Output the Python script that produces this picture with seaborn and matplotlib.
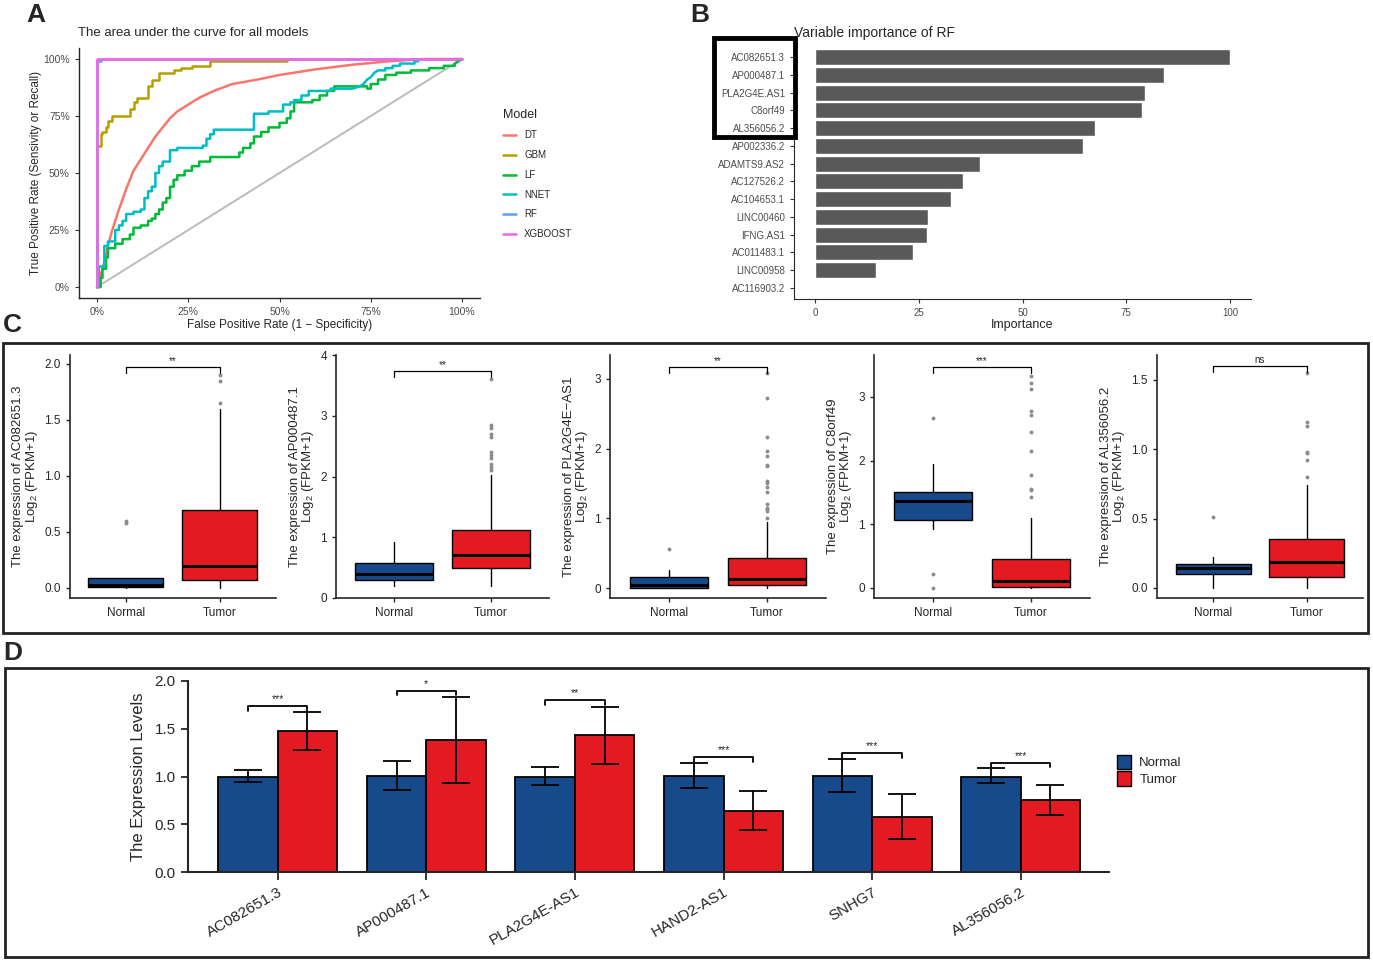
import numpy as np
import pandas as pd
import matplotlib
matplotlib.use("Agg")
import matplotlib.pyplot as plt
import matplotlib.patches as mpatches
import seaborn as sns

# ---------------- panel A : ROC curves (FPR %, TPR %) ----------------
roc_models = ["DT", "GBM", "LF", "NNET", "RF", "XGBOOST"]
roc_colors = ["#F8766D", "#B79F00", "#00BA38", "#00BFC4", "#619CFF", "#F564E3"]
diag = [0, 100]

dt_pts = [(0, 0), (1, 5), (2, 11), (3, 18), (4, 24), (6, 34), (8, 43), (10, 51), (12, 56),
          (14, 61), (16, 66), (18, 70), (20, 74), (22, 77), (25, 80), (28, 83), (32, 86),
          (37, 89), (44, 91), (50, 93), (60, 95.5), (70, 97.5), (80, 99), (90, 100),
          (100, 100)]
gbm_pts = [(0, 0), (0, 62), (1, 62), (1, 67), (1.5, 67), (1.5, 68), (2.5, 68), (2.5, 70),
           (3, 70), (3, 73), (4, 73), (4, 75), (9, 75), (9, 78), (10, 78), (10, 81),
           (11, 81), (11, 83), (14, 83), (14, 88), (15, 88), (15, 91), (17, 91), (17, 94),
           (21, 94), (21, 95), (23, 95), (23, 96), (26, 96), (26, 97), (31, 97), (31, 99),
           (52, 99)]
lf_pts = [(0, 0), (1, 0), (1, 4), (1.5, 4), (1.5, 8), (2.5, 8), (2.5, 13), (3, 13), (3, 17),
          (5, 17), (5, 19), (7, 19), (7, 21), (9, 21), (9, 23), (10, 23), (10, 26), (12, 26),
          (12, 27), (14, 27), (14, 29), (15, 29), (15, 30), (16, 30), (16, 32), (17, 32),
          (17, 34), (18, 34), (18, 37), (19, 37), (19, 39), (20, 39), (20, 44), (21, 44),
          (21, 47), (22, 47), (22, 49), (24, 49), (24, 51), (26, 51), (26, 53), (28, 53),
          (28, 55), (31, 55), (31, 57), (39, 57), (39, 59), (40, 59), (40, 61), (42, 61),
          (42, 63), (43, 63), (43, 66), (45, 66), (45, 68), (47, 68), (47, 70), (50, 70),
          (50, 72), (52, 72), (52, 74), (53, 74), (53, 77), (54, 77), (54, 81), (59, 81),
          (59, 82), (61, 82), (61, 84), (63, 84), (63, 86), (65, 86), (65, 88), (74, 88),
          (74, 87), (75, 87), (75, 89), (77, 89), (77, 91), (79, 91), (79, 93), (82, 93),
          (82, 94), (86, 94), (86, 95), (91, 95), (91, 96), (95, 96), (95, 97), (98, 97),
          (98, 98), (100, 100)]
nnet_pts = [(0, 0), (0.5, 0), (0.5, 9), (2, 9), (2, 18), (3, 18), (3, 20), (5, 20), (5, 25),
            (6, 25), (6, 27), (7, 27), (7, 29), (8, 29), (8, 32), (10, 32), (10, 33), (12, 33),
            (12, 34), (13, 34), (13, 39), (14, 39), (14, 42), (15, 42), (15, 44), (16, 44),
            (16, 50), (17, 50), (17, 53), (18, 53), (18, 55), (20, 55), (20, 60), (22, 60),
            (22, 61), (29, 61), (29, 62), (30, 62), (30, 65), (31, 65), (31, 67), (32, 67),
            (32, 69), (43, 69), (43, 76), (47, 76), (47, 77), (51, 77), (51, 80), (53, 80),
            (53, 81), (54, 81), (54, 82), (56, 82), (56, 84), (58, 84), (58, 86), (64, 86),
            (64, 87), (70, 87), (72, 88), (73, 89), (74, 91), (75, 92), (76, 94), (77, 95),
            (79, 95), (79, 96), (81, 96), (81, 97), (83, 97), (83, 98), (87, 98), (87, 99),
            (88, 99)]
rf_pts = [(0, 0), (0, 99), (1, 99), (1, 100), (100, 100)]
xgb_pts = [(0, 0), (0, 100), (100, 100)]

# ---------------- panel B : variable importance ----------------
imp_vars = ["AC082651.3", "AP000487.1", "PLA2G4E.AS1", "C8orf49", "AL356056.2",
            "AP002336.2", "ADAMTS9.AS2", "AC127526.2", "AC104653.1", "LINC00460",
            "IFNG.AS1", "AC011483.1", "LINC00958", "AC116903.2"]
imp_vals = [100, 84.0, 79.5, 78.7, 67.4, 64.5, 39.8, 35.7, 32.8, 27.3, 27.0, 23.7, 14.8, 0]

# ---------------- panel C : box statistics ----------------
box_genes = ["AC082651.3", "AP000487.1", "PLA2G4E\u2212AS1", "C8orf49", "AL356056.2"]
box_sig = ["**", "**", "**", "***", "ns"]
box_sig_y = [1.97, 3.73, 3.17, 3.47, 1.60]

nor_lo = [0.0, 0.2, 0.0, 0.92, 0.0]
nor_q1 = [0.01, 0.3, 0.01, 1.06, 0.10]
nor_med = [0.03, 0.4, 0.04, 1.37, 0.145]
nor_q3 = [0.09, 0.58, 0.16, 1.50, 0.175]
nor_hi = [0.09, 0.92, 0.26, 1.95, 0.22]
nor_fliers = [[0.58, 0.60], [], [0.56], [2.67, 0.22, 0.0], [0.51]]

tum_lo = [0.0, 0.2, 0.0, 0.0, 0.0]
tum_q1 = [0.07, 0.5, 0.05, 0.01, 0.075]
tum_med = [0.20, 0.7, 0.13, 0.11, 0.185]
tum_q3 = [0.70, 1.12, 0.43, 0.45, 0.355]
tum_hi = [1.60, 2.03, 0.95, 1.10, 0.745]
tum_fliers = [[1.65, 1.85, 1.90],
              [2.1, 2.15, 2.2, 2.3, 2.35, 2.4, 2.65, 2.7, 2.8, 2.85, 3.6],
              [1.0, 1.1, 1.13, 1.15, 1.2, 1.38, 1.45, 1.5, 1.53, 1.75, 1.77, 1.9, 1.97,
               2.17, 2.73, 3.08],
              [1.42, 1.53, 1.55, 1.78, 2.15, 2.45, 2.72, 2.78, 3.12, 3.22, 3.33],
              [0.8, 0.92, 0.97, 0.98, 1.17, 1.2, 1.55]]

# ---------------- panel D : qPCR bars ----------------
d_genes = ["AC082651.3", "AP000487.1", "PLA2G4E-AS1", "HAND2-AS1", "SNHG7", "AL356056.2"]
d_normal = [1.00, 1.01, 1.00, 1.01, 1.01, 1.00]
d_normal_lo = [0.94, 0.86, 0.91, 0.88, 0.84, 0.93]
d_normal_hi = [1.07, 1.16, 1.10, 1.14, 1.18, 1.09]
d_tumor = [1.48, 1.38, 1.43, 0.64, 0.58, 0.75]
d_tumor_lo = [1.28, 0.93, 1.13, 0.44, 0.35, 0.60]
d_tumor_hi = [1.68, 1.83, 1.73, 0.85, 0.82, 0.91]
d_sig = ["***", "*", "**", "***", "***", "***"]
d_sig_y = [1.74, 1.90, 1.80, 1.20, 1.245, 1.145]

BLUE = "#174A8B"
RED = "#E41A22"

sns.set_style("ticks")
plt.rcParams["font.family"] = ["Liberation Sans", "DejaVu Sans"]
plt.rcParams["mathtext.fontset"] = "custom"
plt.rcParams["mathtext.rm"] = "Liberation Sans"

W, H = 1373, 960
fig = plt.figure(figsize=(W / 100, H / 100), dpi=100)


def fbox(l, t, r, b):
    return [l / W, 1 - b / H, (r - l) / W, (b - t) / H]


def panel_letter(x, y, s):
    fig.text(x / W, 1 - y / H, s, fontsize=19, fontweight="bold", ha="left", va="center")


# ---------- A ----------
rows = []
for m, pts in zip(roc_models, [dt_pts, gbm_pts, lf_pts, nnet_pts, rf_pts, xgb_pts]):
    for i, (fx, ty) in enumerate(pts):
        rows.append({"model": m, "order": i, "fpr": fx, "tpr": ty})
roc_df = pd.DataFrame(rows)

axA = fig.add_axes(fbox(78.75, 47.6, 480.25, 298.4))
axA.plot(diag, diag, color="#BEBEBE", lw=1.5, zorder=1)
sns.lineplot(data=roc_df, x="fpr", y="tpr", hue="model", hue_order=roc_models,
             palette=roc_colors, sort=False, estimator=None, lw=1.8, ax=axA)
axA.set_xlim(-5, 105)
axA.set_ylim(-5, 105)
pct = [0, 25, 50, 75, 100]
axA.set_xticks(pct, [f"{p}%" for p in pct])
axA.set_yticks(pct, [f"{p}%" for p in pct])
axA.tick_params(labelsize=7.5, labelcolor="#4D4D4D", color="#333333", length=3, width=0.8)
for s in ["top", "right"]:
    axA.spines[s].set_visible(False)
for s in ["left", "bottom"]:
    axA.spines[s].set_linewidth(1.0)
axA.set_xlabel("False Positive Rate (1 \u2212 Specificity)", fontsize=8.5, labelpad=1)
axA.set_ylabel("True Positive Rate (Sensivity or Recall)", fontsize=8.5, labelpad=1)
handles, labels = axA.get_legend_handles_labels()
axA.legend_.remove()
legA = fig.legend(handles, labels, title="Model", loc="upper left",
                  bbox_to_anchor=(494 / W, 1 - 100 / H), frameon=False, fontsize=7,
                  title_fontsize=9, handlelength=1.4, labelspacing=1.0, handletextpad=0.8)
legA._legend_box.align = "left"
fig.text(78 / W, 1 - 33 / H, "The area under the curve for all models", fontsize=9.5, va="center")
panel_letter(26, 15, "A")

# ---------- B ----------
imp_df = pd.DataFrame({"var": imp_vars, "imp": imp_vals})
axB = fig.add_axes(fbox(794.25, 46.3, 1250.75, 298.7))
sns.barplot(data=imp_df, x="imp", y="var", orient="h", color="#595959", saturation=1,
            width=0.9, ax=axB)
axB.set_xlim(-5, 105)
axB.set_ylim(len(imp_vars) - 0.4, -0.6)
axB.set_xticks([0, 25, 50, 75, 100])
axB.tick_params(labelsize=7, labelcolor="#4D4D4D", color="#333333", length=3, width=0.8)
for s in ["top", "right"]:
    axB.spines[s].set_visible(False)
axB.set_xlabel("Importance", fontsize=9, labelpad=1)
axB.set_ylabel("")
fig.text(794 / W, 1 - 33 / H, "Variable importance of RF", fontsize=10, va="center")
fig.add_artist(mpatches.Rectangle((714 / W, 1 - 137 / H), 81 / W, 99 / H, fill=False,
                                  lw=3.5, ec="black", transform=fig.transFigure))
panel_letter(690, 15, "B")

# ---------- C ----------
c_left = [69.6, 336, 610, 874, 1157]
c_right = [276, 549, 826, 1090, 1363]
c_ylim = [(-0.09, 2.08), (0, 4), (-0.14, 3.34), (-0.16, 3.66), (-0.073, 1.68)]
c_yticks = [[0, 0.5, 1, 1.5, 2], [0, 1, 2, 3, 4], [0, 1, 2, 3], [0, 1, 2, 3],
            [0, 0.5, 1, 1.5]]
for i, g in enumerate(box_genes):
    ax = fig.add_axes(fbox(c_left[i], 355, c_right[i], 598))
    stats = [
        dict(whislo=nor_lo[i], q1=nor_q1[i], med=nor_med[i], q3=nor_q3[i],
             whishi=nor_hi[i], fliers=nor_fliers[i]),
        dict(whislo=tum_lo[i], q1=tum_q1[i], med=tum_med[i], q3=tum_q3[i],
             whishi=tum_hi[i], fliers=tum_fliers[i]),
    ]
    bp = ax.bxp(stats, positions=[1, 2], widths=0.8, patch_artist=True, showcaps=False,
                boxprops=dict(edgecolor="black", lw=1.0),
                medianprops=dict(color="black", lw=2.2),
                whiskerprops=dict(color="black", lw=1.0),
                flierprops=dict(marker="o", markersize=2.8, markerfacecolor="#8C8C8C",
                                markeredgecolor="none"))
    for patch, col in zip(bp["boxes"], [BLUE, RED]):
        patch.set_facecolor(col)
    ax.set_xlim(0.4, 2.6)
    ax.set_ylim(*c_ylim[i])
    ax.set_xticks([1, 2], ["Normal", "Tumor"])
    ticks = c_yticks[i]
    if i in (0, 4):
        ax.set_yticks(ticks, [f"{t:.1f}" for t in ticks])
    else:
        ax.set_yticks(ticks, [f"{t:d}" for t in ticks])
    ax.tick_params(labelsize=8.5, length=3, width=1.0)
    for s in ["top", "right"]:
        ax.spines[s].set_visible(False)
    for s in ["left", "bottom"]:
        ax.spines[s].set_linewidth(1.2)
    ax.set_ylabel(f"The expression of {g}\nLog$_2$ (FPKM+1)", fontsize=9.5,
                  linespacing=0.95, labelpad=3)
    y0 = box_sig_y[i]
    dy = (c_ylim[i][1] - c_ylim[i][0]) * 0.025
    ax.plot([1, 1, 2, 2], [y0 - dy, y0, y0, y0 - dy], color="black", lw=0.9, clip_on=False)
    ax.text(1.5, y0 + dy * 0.2, box_sig[i], ha="center", va="bottom", fontsize=7)

fig.add_artist(mpatches.Rectangle((3 / W, 1 - 633 / H), 1365 / W, 290 / H, fill=False,
                                  lw=2, ec="#222222", transform=fig.transFigure))
panel_letter(3, 325, "C")

# ---------- D ----------
d_df = pd.DataFrame({
    "gene": d_genes * 2,
    "group": ["Normal"] * len(d_genes) + ["Tumor"] * len(d_genes),
    "value": d_normal + d_tumor,
})
axD = fig.add_axes(fbox(187.5, 681, 1109, 872))
sns.barplot(data=d_df, x="gene", y="value", hue="group", hue_order=["Normal", "Tumor"],
            palette=[BLUE, RED], saturation=1, width=0.8, edgecolor="black", linewidth=1.3,
            errorbar=None, legend=False, ax=axD)
centers = []
for cont, mean, lo, hi in zip(axD.containers, [d_normal, d_tumor],
                              [d_normal_lo, d_tumor_lo], [d_normal_hi, d_tumor_hi]):
    xs = [b.get_x() + b.get_width() / 2 for b in cont]
    centers.append(xs)
    mean = np.array(mean)
    axD.errorbar(xs, mean, yerr=[mean - np.array(lo), np.array(hi) - mean], fmt="none",
                 ecolor="black", elinewidth=1.3, capsize=10, capthick=1.3, zorder=5)
for j in range(len(d_genes)):
    xa, xb = centers[0][j], centers[1][j]
    y0 = d_sig_y[j]
    axD.plot([xa, xa, xb, xb], [y0 - 0.05, y0, y0, y0 - 0.05], color="black", lw=1.3,
             zorder=6)
    axD.text((xa + xb) / 2, y0 + 0.02, d_sig[j], ha="center", va="bottom", fontsize=7.5)
axD.set_xlim(-0.607, 5.594)
axD.set_ylim(0, 2.0)
axD.set_yticks([0, 0.5, 1.0, 1.5, 2.0], ["0.0", "0.5", "1.0", "1.5", "2.0"])
axD.tick_params(axis="y", labelsize=11, length=5, width=1.3)
axD.tick_params(axis="x", labelsize=11, length=6, width=1.3)
plt.setp(axD.get_xticklabels(), rotation=30, ha="right", rotation_mode="anchor")
for s in ["top", "right"]:
    axD.spines[s].set_visible(False)
for s in ["left", "bottom"]:
    axD.spines[s].set_linewidth(1.5)
axD.set_xlabel("")
axD.set_ylabel("The Expression Levels", fontsize=12, labelpad=6)
d_handles = [mpatches.Patch(facecolor=BLUE, edgecolor="black", label="Normal"),
             mpatches.Patch(facecolor=RED, edgecolor="black", label="Tumor")]
fig.legend(handles=d_handles, loc="upper left", bbox_to_anchor=(1105 / W, 1 - 743 / H),
           frameon=False, fontsize=9.5, handlelength=1.1, handleheight=1.3,
           labelspacing=0.15, handletextpad=0.6)
fig.add_artist(mpatches.Rectangle((5 / W, 1 - 957 / H), 1363 / W, 289 / H, fill=False,
                                  lw=2, ec="#222222", transform=fig.transFigure))
panel_letter(3, 653, "D")

fig.savefig("out.png", dpi=100)
